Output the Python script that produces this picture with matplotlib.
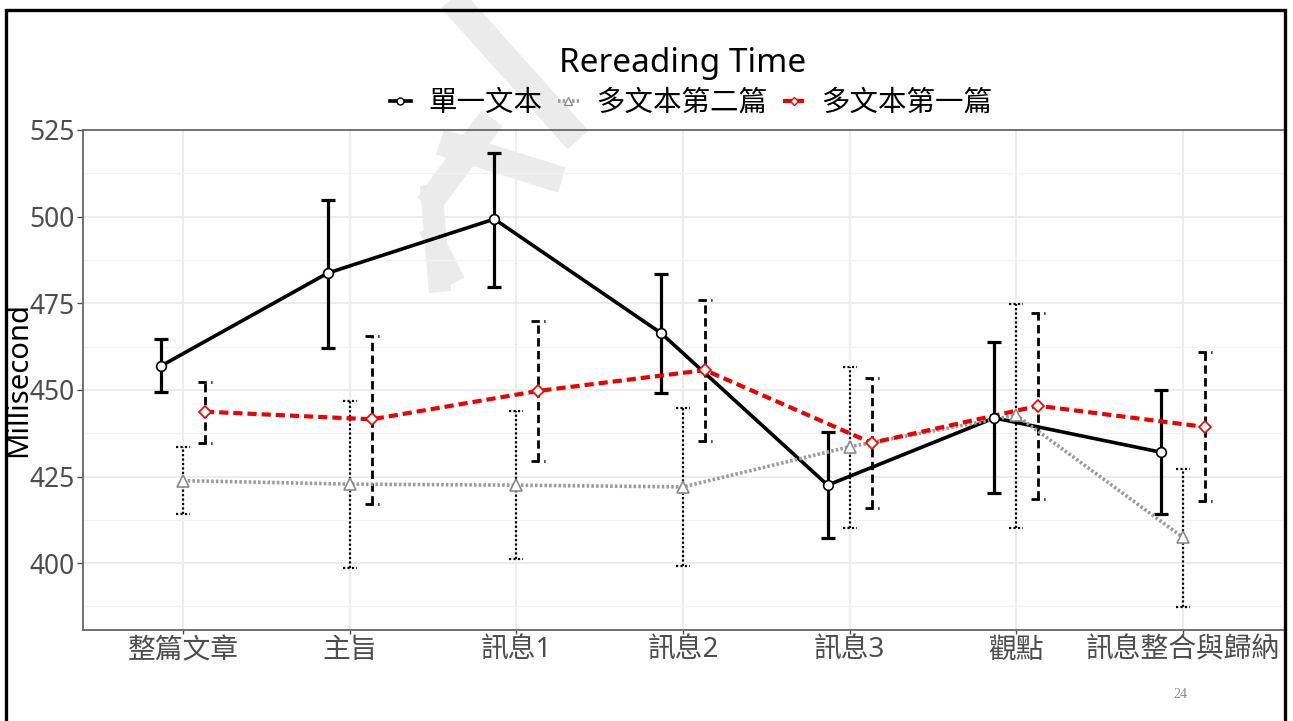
import matplotlib
matplotlib.use("Agg")
import matplotlib.pyplot as plt
import numpy as np
from matplotlib.patches import Rectangle
from matplotlib.lines import Line2D

plt.rcParams['font.family'] = ['Noto Sans', 'Noto Sans CJK TC', 'DejaVu Sans']

categories = ['整篇文章', '主旨', '訊息1', '訊息2', '訊息3', '觀點', '訊息整合與歸納']
series_names = ['單一文本', '多文本第二篇', '多文本第一篇']

single_mean = [456.9, 483.7, 499.3, 466.4, 422.5, 441.9, 432.0]
single_hi = [464.6, 504.8, 518.4, 483.4, 437.9, 463.7, 449.9]
single_lo = [449.4, 462.1, 479.7, 449.1, 407.3, 420.1, 414.1]

second_mean = [423.8, 422.8, 422.5, 422.0, 433.6, 442.7, 407.4]
second_hi = [433.4, 446.9, 443.9, 444.7, 456.5, 474.7, 427.1]
second_lo = [414.3, 398.6, 401.2, 399.2, 410.2, 410.2, 387.2]

first_mean = [443.7, 441.5, 449.7, 455.7, 434.7, 445.4, 439.3]
first_hi = [452.3, 465.6, 469.9, 475.9, 453.5, 472.3, 460.8]
first_lo = [434.8, 417.2, 429.4, 435.2, 416.0, 418.4, 418.0]

yticks = [400, 425, 450, 475, 500, 525]

W, H = 1293, 721
fig = plt.figure(figsize=(W / 100, H / 100), dpi=100)
ax = fig.add_axes([83 / W, 1 - 630 / H, 1200 / W, 500 / H])
ax.patch.set_alpha(0)

# faint slide watermark behind the panel (pixel coords, y from top)
watermark = [((448, -5), (578, 140), 20),
             ((492, 118), (428, 205), 19),
             ((431, 185), (440, 292), 16),
             ((440, 142), (562, 180), 19),
             ((428, 228), (456, 282), 14)]
for (x0, y0), (x1, y1), w in watermark:
    fig.add_artist(Line2D([x0 / W, x1 / W], [1 - y0 / H, 1 - y1 / H], transform=fig.transFigure,
                          color='#ebebeb', linewidth=w, solid_capstyle='butt', zorder=-5))

x = np.arange(1, len(categories) + 1)
dodge = 0.132
cap = 0.042

styles = [
    dict(mean=single_mean, hi=single_hi, lo=single_lo, off=-dodge, color='black', ls='-', lw=2.6,
         marker='o', mec='black', ms=7, bar_ls='-', bar_lw=2.3),
    dict(mean=second_mean, hi=second_hi, lo=second_lo, off=0.0, color='#9a9a9a', ls=(0, (0.7, 0.6)), lw=2.6,
         marker='^', mec='#8a8a8a', ms=8, bar_ls=(0, (1, 1)), bar_lw=1.6),
    dict(mean=first_mean, hi=first_hi, lo=first_lo, off=dodge, color='#ee0000', ls=(0, (2.2, 1.2)), lw=3.0,
         marker='D', mec='#ee0000', ms=6, bar_ls=(0, (3, 1.6)), bar_lw=2.0),
]

handles = []
for name, s in zip(series_names, styles):
    xs = x + s['off']
    ax.vlines(xs, s['lo'], s['hi'], colors='black', linestyles=s['bar_ls'], linewidth=s['bar_lw'], zorder=3)
    ax.hlines(s['hi'], xs - cap, xs + cap, colors='black', linestyles=s['bar_ls'], linewidth=s['bar_lw'], zorder=3)
    ax.hlines(s['lo'], xs - cap, xs + cap, colors='black', linestyles=s['bar_ls'], linewidth=s['bar_lw'], zorder=3)
    ax.plot(xs, s['mean'], color=s['color'], linestyle=s['ls'], linewidth=s['lw'], zorder=4)
    ax.plot(xs, s['mean'], linestyle='none', marker=s['marker'], markersize=s['ms'],
            markerfacecolor='white', markeredgecolor=s['mec'], markeredgewidth=1.2, zorder=5)
    handles.append(Line2D([0], [0], color=s['color'], linestyle=s['ls'], linewidth=s['lw'],
                          marker=s['marker'], markersize=s['ms'] - 2, markerfacecolor='white',
                          markeredgecolor=s['mec'], markeredgewidth=1.0))

ax.set_xlim(0.4, 7.6)
ax.set_ylim(380.7, 525)
ax.set_xticks(x)
ax.set_xticklabels(categories)
ax.set_yticks(yticks)
ax.set_yticks([387.5, 412.5, 437.5, 462.5, 487.5, 512.5], minor=True)
ax.tick_params(axis='both', which='major', labelsize=19, colors='#4d4d4d', length=4, width=1.0, pad=2)
ax.tick_params(axis='x', labelsize=20, length=3)
ax.tick_params(axis='y', which='minor', length=0)
ax.grid(True, which='major', color='#ebebeb', linewidth=1.3)
ax.grid(True, which='minor', axis='y', color='#f2f2f2', linewidth=0.9)
ax.set_axisbelow(True)

for side in ['left', 'bottom', 'top']:
    ax.spines[side].set_color('#666666')
    ax.spines[side].set_linewidth(1.3)
ax.spines['right'].set_visible(False)

ax.set_ylabel('Millisecond', fontsize=21, color='black', labelpad=-3)

fig.text(683 / W, 1 - 63 / H, 'Rereading Time', ha='center', va='center', fontsize=24)
fig.legend(handles, series_names, loc='center', bbox_to_anchor=(691 / W, 1 - 103 / H), ncol=3,
           frameon=False, fontsize=20.5, handlelength=0.75, handletextpad=0.6, columnspacing=0.55)

fig.text(1180 / W, 1 - 695 / H, '24', ha='center', va='center', fontsize=10,
         color='#888888', family='Liberation Serif')

# slide border
fig.patches.append(Rectangle((6 / W, -0.05), 1279 / W, 1.05 - 10 / H, transform=fig.transFigure,
                             fill=False, edgecolor='black', linewidth=2.4, zorder=10))

fig.savefig('out.png', dpi=100)
